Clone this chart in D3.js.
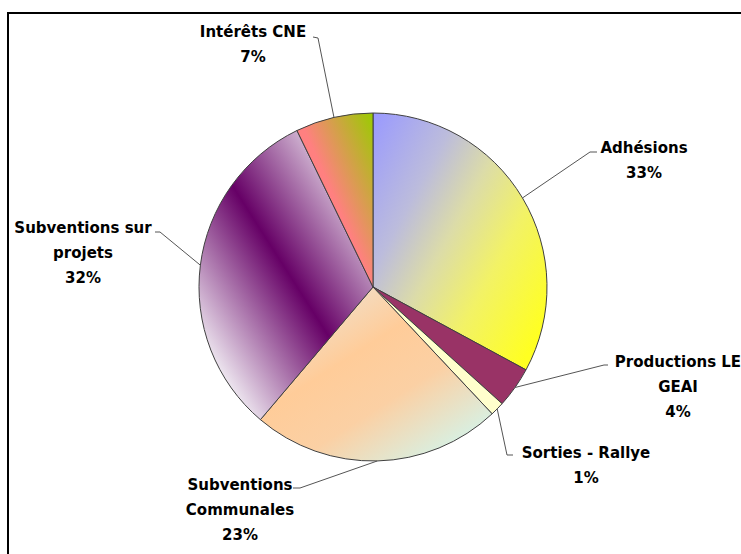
<!DOCTYPE html>
<html>
<head>
    <meta charset="utf-8">
    <script src="https://d3js.org/d3.v7.min.js"></script>
    <style>
        body {
            margin: 0;
            background-color: #ffffff;
            overflow: hidden;
        }

        .label {
            font-family: "DejaVu Sans", sans-serif;
            font-weight: bold;
            font-size: 15px;
            fill: #000000;
        }
    </style>
</head>
<body>
    <svg></svg>

    <script type="text/javascript">
        // parts du budget (sens horaire depuis midi)
        const categories = ['Adhésions', 'Productions LE GEAI', 'Sorties - Rallye', 'Subventions Communales', 'Subventions sur projets', 'Intérêts CNE']
        const values = [32.9, 3.8, 1.3, 23.2, 31.6, 7.2]
        const percentLabels = ['33%', '4%', '1%', '23%', '32%', '7%']
        const labelLines = [['Adhésions'], ['Productions LE', 'GEAI'], ['Sorties - Rallye'], ['Subventions', 'Communales'], ['Subventions sur', 'projets'], ['Intérêts CNE']]

        const width = 741, height = 554
        const cx = 373, cy = 287, radius = 174

        // placement des étiquettes : centre du texte, première ligne, coude du trait
        const labelLayout = [
            { x: 644, y: 153, elbow: [590, 152], end: [597, 152] },
            { x: 678, y: 367, elbow: [604, 365], end: [608, 365] },
            { x: 586, y: 458, elbow: [507, 455], end: [513, 455] },
            { x: 240, y: 490, elbow: [300, 488], end: [293, 488] },
            { x: 83, y: 233, elbow: [160, 232], end: [155, 232] },
            { x: 253, y: 37, elbow: [318, 38], end: [313, 37] }
        ]

        let svg = d3.select('svg')
            .attr('width', width)
            .attr('height', height)

        // cadre
        svg.append('rect')
            .attr('x', 8)
            .attr('y', 13)
            .attr('width', 760)
            .attr('height', 560)
            .attr('fill', 'none')
            .attr('stroke', '#000')
            .attr('stroke-width', 2)

        let defs = svg.append('defs')

        let addGradient = (id, pts, stops, user) => {
            let g = defs.append('linearGradient').attr('id', id)
                .attr('x1', pts[0]).attr('y1', pts[1]).attr('x2', pts[2]).attr('y2', pts[3])
            if (user) g.attr('gradientUnits', 'userSpaceOnUse')
            stops.forEach(s => g.append('stop').attr('offset', s[0]).attr('stop-color', s[1]))
        }

        addGradient('g0', [0, 0, 1, 0.8], [[0, '#9999ff'], [0.3, '#bcbcdc'], [0.5, '#dcdca8'], [0.72, '#f2f266'], [1, '#ffff22']])
        addGradient('g3', [0.15, 0, 1, 1], [[0, '#ece6da'], [0.35, '#ffcc99'], [0.58, '#fbd0a4'], [1, '#c8ffff']])
        addGradient('g4', [-radius * 1.09, radius * 0.2, radius * 0.02, -radius * 0.51],
            [[0, '#f2eef4'], [0.5, '#660066'], [1, '#f2eef4']], true)
        addGradient('g5', [0, 1, 1, 0], [[0, '#ff8080'], [0.5, '#ff8080'], [1, '#99cc00']])

        const fills = ['url(#g0)', '#993366', '#ffffcc', 'url(#g3)', 'url(#g4)', 'url(#g5)']

        let pie = d3.pie().sort(null).value(d => d)
        let arcs = pie(values)

        let arc = d3.arc().innerRadius(0).outerRadius(radius)
        let edge = d3.arc().innerRadius(radius).outerRadius(radius)

        let chart = svg.append('g').attr('transform', `translate(${cx},${cy})`)

        chart.selectAll('path.slice')
            .data(arcs)
            .enter()
            .append('path')
            .attr('class', 'slice')
            .attr('d', arc)
            .attr('fill', (d, i) => fills[i])
            .attr('stroke', '#404040')
            .attr('stroke-width', 1)

        // traits de rappel
        svg.selectAll('polyline.leader')
            .data(arcs)
            .enter()
            .append('polyline')
            .attr('class', 'leader')
            .attr('points', (d, i) => {
                let p = edge.centroid(d)
                let l = labelLayout[i]
                return [[p[0] + cx, p[1] + cy], l.elbow, l.end].map(q => q.join(',')).join(' ')
            })
            .attr('fill', 'none')
            .attr('stroke', '#555')
            .attr('stroke-width', 1)

        // étiquettes
        let labels = svg.selectAll('text.label')
            .data(arcs)
            .enter()
            .append('text')
            .attr('class', 'label')
            .attr('text-anchor', 'middle')
            .attr('x', (d, i) => labelLayout[i].x)
            .attr('y', (d, i) => labelLayout[i].y)

        labels.each(function (d, i) {
            let t = d3.select(this)
            let lines = labelLines[i].concat([percentLabels[i]])
            lines.forEach((s, j) => {
                t.append('tspan')
                    .attr('x', labelLayout[i].x)
                    .attr('dy', j == 0 ? 0 : 25)
                    .text(s)
            })
        })
    </script>
</body>
</html>
